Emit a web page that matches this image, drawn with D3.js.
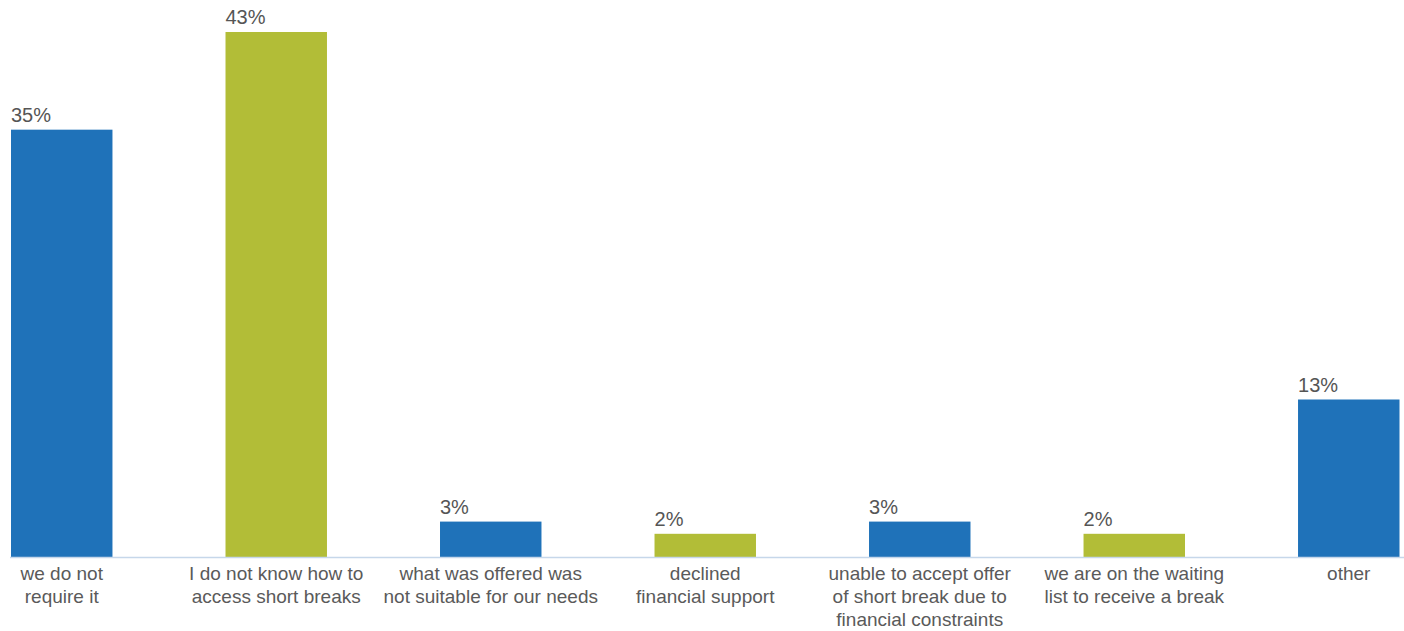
<!DOCTYPE html>
<html>
<head>
<meta charset="utf-8">
<script src="https://cdn.jsdelivr.net/npm/d3@7"></script>
<style>
  html, body { margin: 0; padding: 0; background: #fff; }
  svg { display: block; }
  text { font-family: "Liberation Sans", Arial, Helvetica, sans-serif; }
</style>
</head>
<body>
<svg id="chart" width="1404" height="631"></svg>
<script>
const categories = [
  ["we do not", "require it"],
  ["I do not know how to", "access short breaks"],
  ["what was offered was", "not suitable for our needs"],
  ["declined", "financial support"],
  ["unable to accept offer", "of short break due to", "financial constraints"],
  ["we are on the waiting", "list to receive a break"],
  ["other"]
];
const values = [35, 43, 2.9, 1.9, 2.9, 1.9, 12.9];
const valueLabels = ["35%", "43%", "3%", "2%", "3%", "2%", "13%"];
const barColors = ["#1F72B9", "#B2BD37", "#1F72B9", "#B2BD37", "#1F72B9", "#B2BD37", "#1F72B9"];

const svg = d3.select("#chart");
const baseY = 557;
const ids = categories.map((c, i) => i);

const x = d3.scaleBand()
  .domain(ids)
  .range([11, 1399.5])
  .paddingInner(0.527)
  .paddingOuter(0);

const y = d3.scaleLinear()
  .domain([0, 43])
  .range([baseY, 32]);

svg.append("g").selectAll("rect")
  .data(values)
  .join("rect")
  .attr("x", (d, i) => x(i))
  .attr("y", d => y(d))
  .attr("width", x.bandwidth())
  .attr("height", d => baseY - y(d))
  .attr("fill", (d, i) => barColors[i]);

// baseline
svg.append("line")
  .attr("x1", 10).attr("x2", 1404)
  .attr("y1", baseY + 0.5).attr("y2", baseY + 0.5)
  .attr("stroke", "#C6D7EA")
  .attr("stroke-width", 1.5);

// value labels
svg.append("g").selectAll("text")
  .data(values)
  .join("text")
  .attr("x", (d, i) => x(i))
  .attr("y", d => y(d) - 8)
  .attr("font-size", 20)
  .attr("fill", "#555555")
  .text((d, i) => valueLabels[i]);

// category labels
const catG = svg.append("g");
categories.forEach((lines, i) => {
  const t = catG.append("text")
    .attr("text-anchor", "middle")
    .attr("font-size", 19)
    .attr("fill", "#5a5a5a");
  lines.forEach((ln, j) => {
    t.append("tspan")
      .attr("x", x(i) + x.bandwidth() / 2)
      .attr("y", 580 + j * 23)
      .text(ln);
  });
});
</script>
</body>
</html>
